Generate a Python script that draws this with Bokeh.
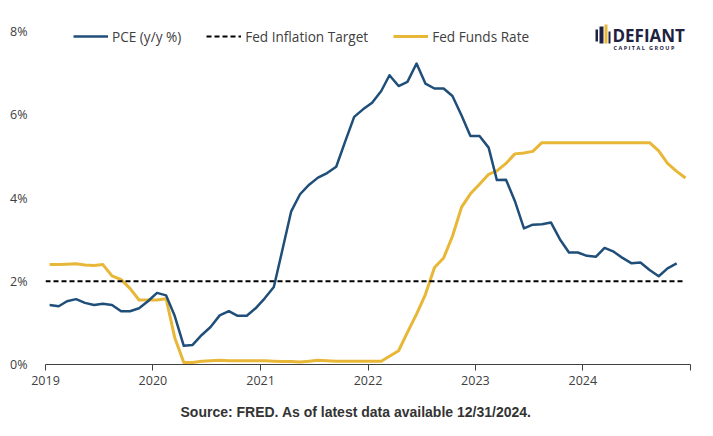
import pandas as pd
from bokeh.plotting import figure
from bokeh.models import (Range1d, FixedTicker, PrintfTickFormatter, CustomJSTickFormatter,
                          Legend, LegendItem, Label, BoxAnnotation, ColumnDataSource, Title)
from bokeh.embed import file_html
from bokeh.resources import INLINE

# ---------------- data ----------------
months = pd.date_range("2019-01-01", "2024-12-01", freq="MS") + pd.Timedelta(days=14)

pce = [
    1.43, 1.40, 1.52, 1.57, 1.48, 1.43, 1.46, 1.43, 1.28, 1.28, 1.35, 1.52,   # 2019
    1.72, 1.66, 1.17, 0.45, 0.47, 0.71, 0.90, 1.18, 1.28, 1.17, 1.17, 1.35,   # 2020
    1.59, 1.86, 2.72, 3.68, 4.09, 4.32, 4.49, 4.60, 4.75, 5.35, 5.95, 6.13,   # 2021
    6.29, 6.57, 6.95, 6.69, 6.79, 7.23, 6.75, 6.63, 6.63, 6.45, 5.98, 5.49,   # 2022
    5.49, 5.21, 4.43, 4.44, 3.93, 3.27, 3.36, 3.37, 3.41, 3.01, 2.69, 2.69,   # 2023
    2.61, 2.59, 2.80, 2.71, 2.56, 2.43, 2.45, 2.27, 2.12, 2.31, 2.43,         # 2024 (to Nov)
]
fed_funds = [
    2.40, 2.40, 2.41, 2.42, 2.39, 2.38, 2.40, 2.13, 2.04, 1.83, 1.55, 1.55,   # 2019
    1.55, 1.58, 0.65, 0.05, 0.05, 0.08, 0.09, 0.10, 0.09, 0.09, 0.09, 0.09,   # 2020
    0.09, 0.08, 0.07, 0.07, 0.06, 0.08, 0.10, 0.09, 0.08, 0.08, 0.08, 0.08,   # 2021
    0.08, 0.08, 0.20, 0.33, 0.77, 1.21, 1.68, 2.33, 2.56, 3.08, 3.78, 4.10,   # 2022
    4.33, 4.57, 4.65, 4.83, 5.06, 5.08, 5.12, 5.33, 5.33, 5.33, 5.33, 5.33,   # 2023
    5.33, 5.33, 5.33, 5.33, 5.33, 5.33, 5.33, 5.33, 5.13, 4.83, 4.64, 4.48,   # 2024
]
target_dates = pd.to_datetime(["2019-01-01", "2024-12-15"])
target = [2.0, 2.0]

y_ticks = [0, 2, 4, 6, 8]
year_ticks = pd.to_datetime([f"{y}-01-01" for y in range(2019, 2026)])

source_note = "Source: FRED. As of latest data available 12/31/2024."

# ---------------- styles ----------------
BLUE = "#1f4e79"
GOLD = "#e8b737"
TEXT = "#404040"
NAVY = "#1e2240"
FONT = "Open Sans"

p = figure(width=713, height=436, x_axis_type="datetime", output_backend="svg",
           toolbar_location=None, min_border_left=45, min_border_right=23,
           min_border_top=20, min_border_bottom=72,
           x_range=Range1d(pd.Timestamp("2019-01-01"), pd.Timestamp("2025-01-01")),
           y_range=Range1d(0, 8 * 344 / 333))
p.outline_line_color = None
p.grid.visible = False
p.background_fill_color = "white"
p.border_fill_color = "white"

src_pce = ColumnDataSource(dict(x=months[:len(pce)], y=pce))
src_ff = ColumnDataSource(dict(x=months[:len(fed_funds)], y=fed_funds))
src_t = ColumnDataSource(dict(x=target_dates, y=target))

r_ff = p.line("x", "y", source=src_ff, color=GOLD, line_width=3, line_join="round")
r_t = p.line("x", "y", source=src_t, color="black", line_width=2, line_dash="5 3")
r_pce = p.line("x", "y", source=src_pce, color=BLUE, line_width=2.5, line_join="round")

# axes
xa = p.xaxis[0]
xa.ticker = FixedTicker(ticks=[t.value // 10**6 for t in year_ticks])
xa.formatter = CustomJSTickFormatter(code="""
    const y = new Date(tick).getUTCFullYear();
    return y >= 2025 ? "" : String(y);
""")
xa.axis_line_color = TEXT
xa.major_tick_line_color = TEXT
xa.major_tick_out = 6
xa.major_tick_in = 0
xa.minor_tick_line_color = None
xa.major_label_text_font = FONT
xa.major_label_text_font_size = "12.5px"
xa.major_label_text_color = TEXT
xa.major_label_standoff = 5

ya = p.yaxis[0]
ya.ticker = FixedTicker(ticks=y_ticks)
ya.formatter = PrintfTickFormatter(format="%d%%")
ya.axis_line_color = None
ya.major_tick_line_color = None
ya.minor_tick_line_color = None
ya.major_label_text_font = FONT
ya.major_label_text_font_size = "12.5px"
ya.major_label_text_color = TEXT
ya.major_label_standoff = 12

# legend
legend = Legend(items=[LegendItem(label="PCE (y/y %)", renderers=[r_pce]),
                       LegendItem(label="Fed Inflation Target", renderers=[r_t]),
                       LegendItem(label="Fed Funds Rate", renderers=[r_ff])],
                orientation="horizontal", location=(28, 318),
                padding=0, margin=0, spacing=25, label_standoff=4,
                glyph_width=35, glyph_height=20,
                label_text_font=FONT, label_text_font_size="13.6px",
                label_text_color=TEXT, background_fill_alpha=0, border_line_alpha=0)
p.add_layout(legend)

# source note
note = Title(text=source_note, align="left", offset=135, standoff=29,
             text_font="Liberation Sans", text_font_style="bold",
             text_font_size="14px", text_color="#333333")
p.add_layout(note, "below")

# logo
NB = "\u00a0"
p.add_layout(Label(x=612, y=35, x_units="canvas", y_units="canvas", text="DEFIANT",
                   text_font=FONT, text_font_style="bold", text_font_size="17px",
                   text_color=NAVY, text_baseline="middle"))
p.add_layout(Label(x=613, y=47, x_units="canvas", y_units="canvas",
                   text=NB.join("CAPITAL") + NB * 3 + NB.join("GROUP"),
                   text_font=FONT, text_font_style="bold", text_font_size="5.5px",
                   text_color=NAVY, text_baseline="middle"))
for (l, r, t, b, c) in [(595, 597.5, 29, 41, NAVY), (599, 603, 26, 43, NAVY),
                        (604, 607, 24, 43, GOLD), (608, 610, 31, 43, NAVY)]:
    p.add_layout(BoxAnnotation(left=l, right=r, top=t, bottom=b,
                               left_units="canvas", right_units="canvas",
                               top_units="canvas", bottom_units="canvas",
                               fill_color=c, fill_alpha=1, line_color=None))

open("out.html", "w").write(file_html(p, INLINE))
